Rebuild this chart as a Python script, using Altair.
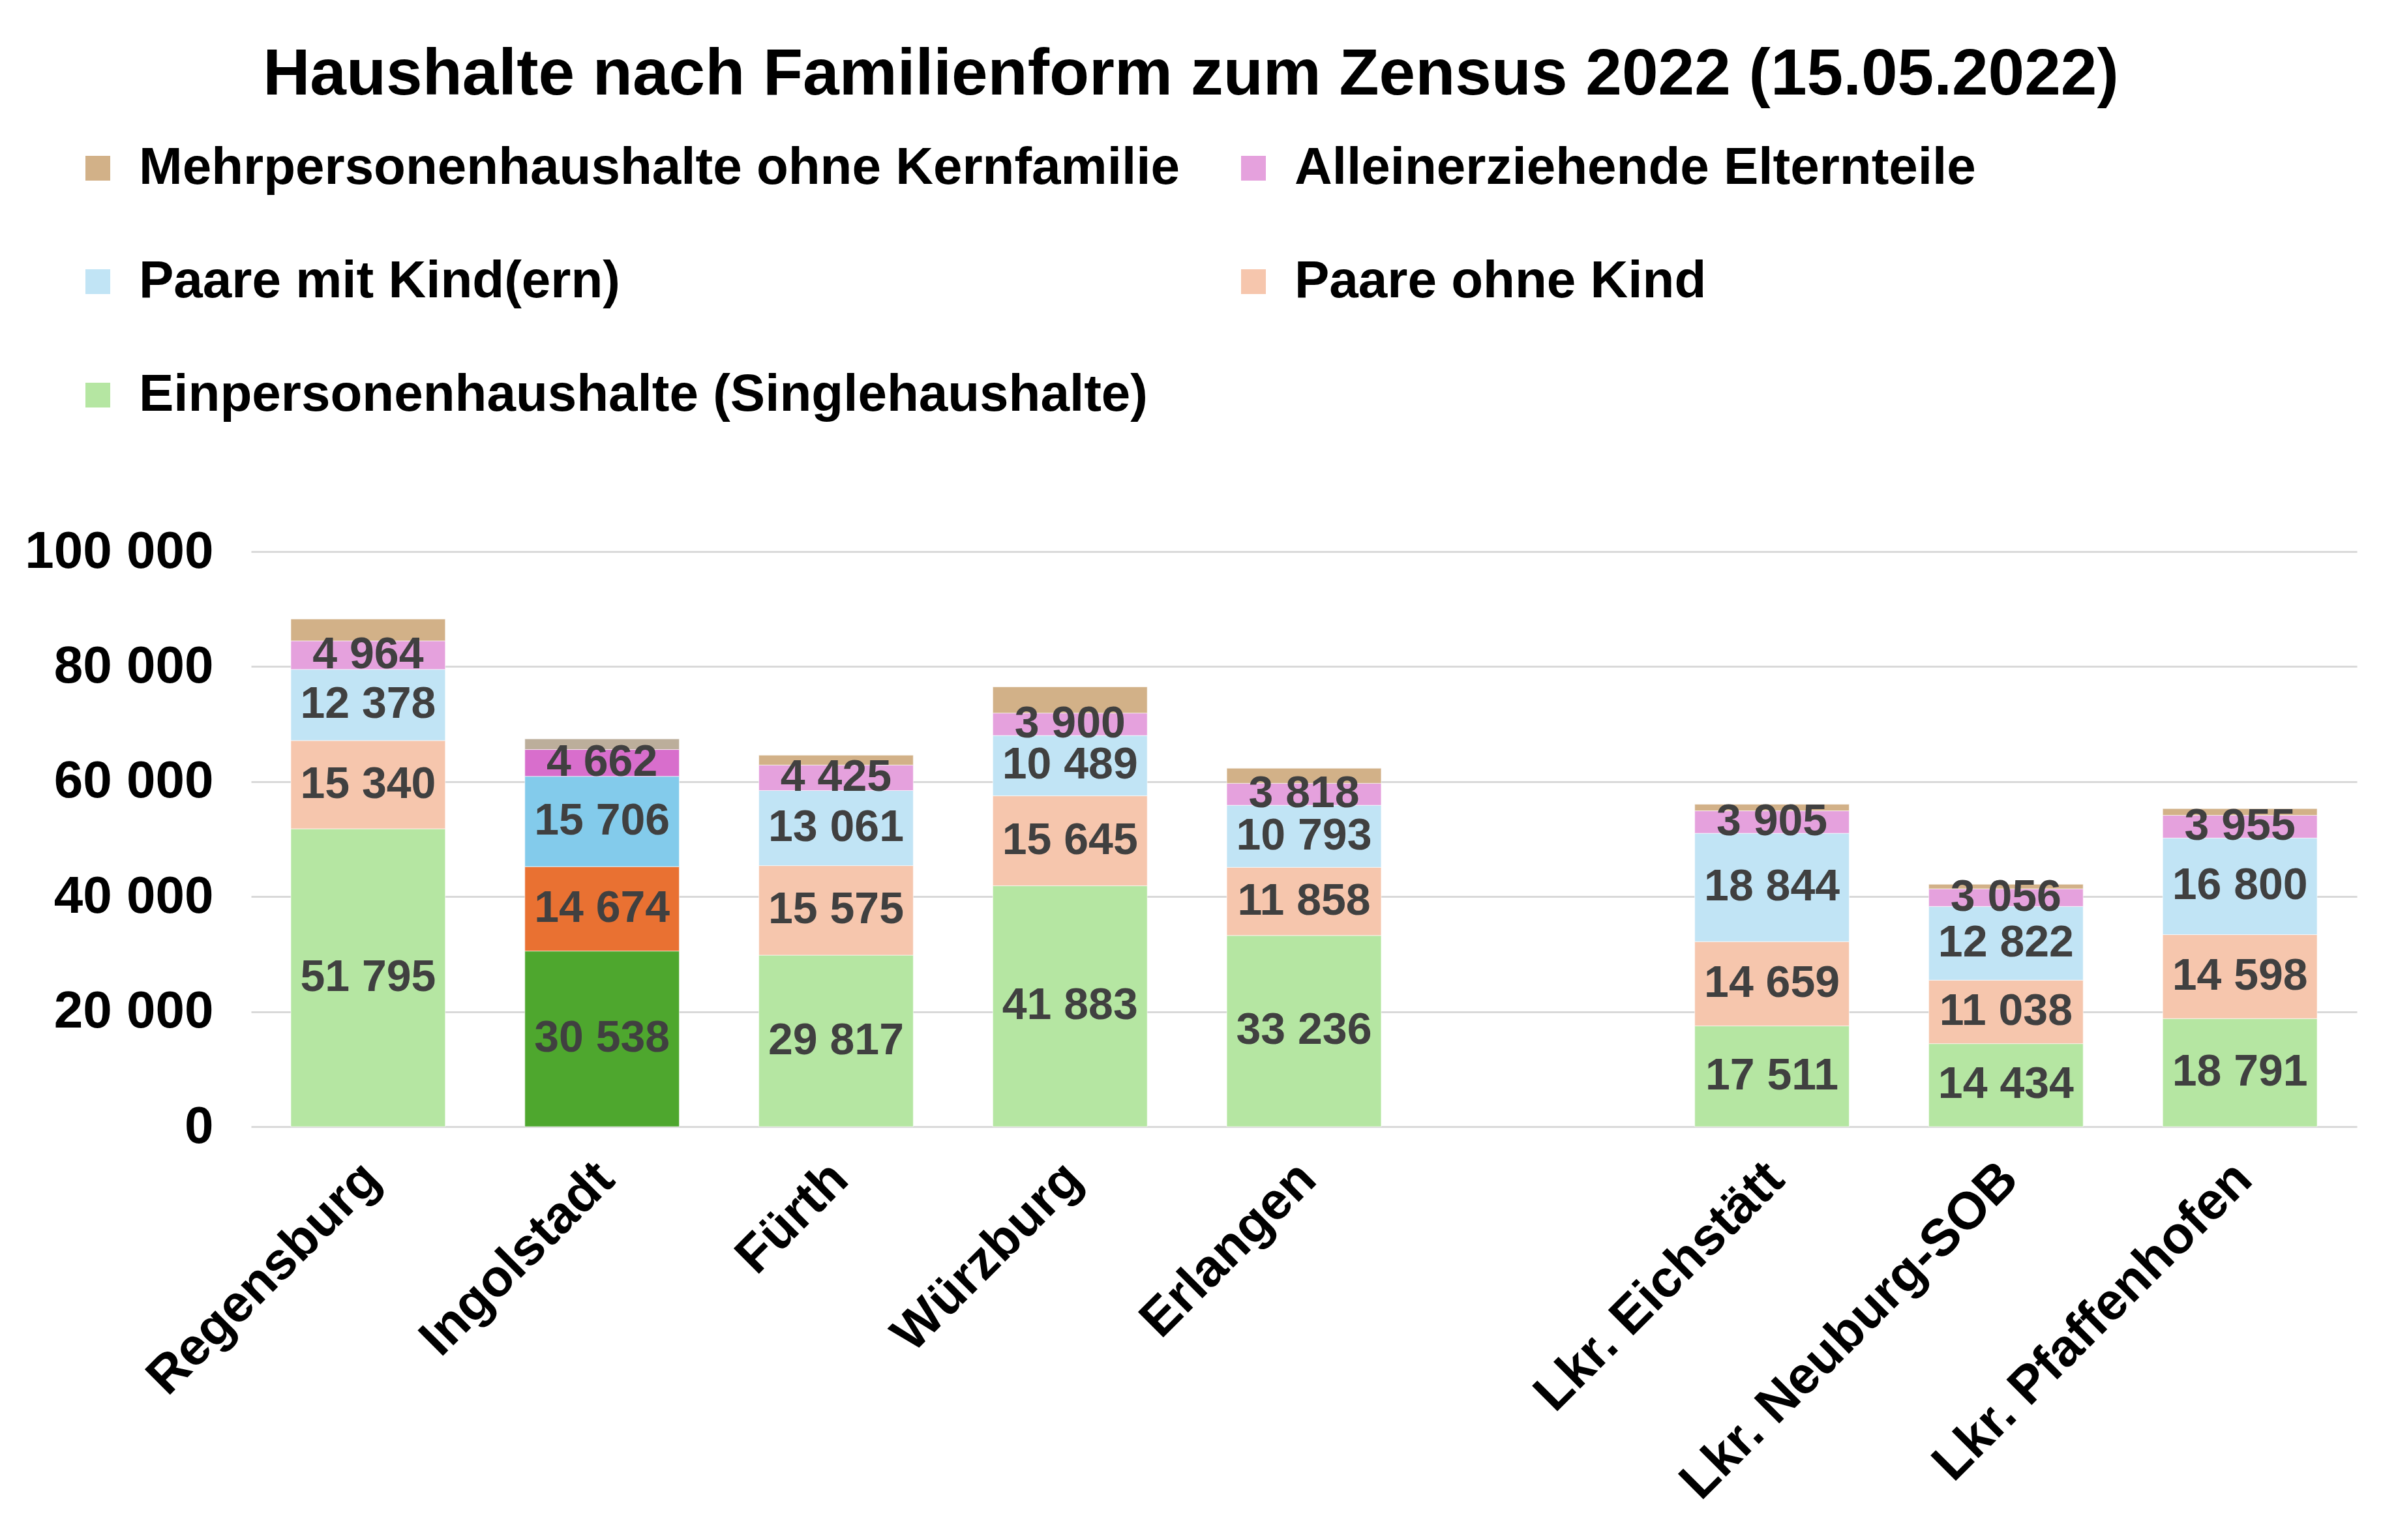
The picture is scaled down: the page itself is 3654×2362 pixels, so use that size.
import altair as alt
import pandas as pd

cities = ["Regensburg", "Ingolstadt", "Fürth", "Würzburg", "Erlangen",
          "Lkr. Eichstätt", "Lkr. Neuburg-SOB", "Lkr. Pfaffenhofen"]
x_domain = ["Regensburg", "Ingolstadt", "Fürth", "Würzburg", "Erlangen", " ",
            "Lkr. Eichstätt", "Lkr. Neuburg-SOB", "Lkr. Pfaffenhofen"]

series = ["Einpersonenhaushalte (Singlehaushalte)", "Paare ohne Kind",
          "Paare mit Kind(ern)", "Alleinerziehende Elternteile",
          "Mehrpersonenhaushalte ohne Kernfamilie"]

einpersonen = [51795, 30538, 29817, 41883, 33236, 17511, 14434, 18791]
paare_ohne_kind = [15340, 14674, 15575, 15645, 11858, 14659, 11038, 14598]
paare_mit_kind = [12378, 15706, 13061, 10489, 10793, 18844, 12822, 16800]
alleinerziehende = [4964, 4662, 4425, 3900, 3818, 3905, 3056, 3955]
mehrpersonen = [3800, 1850, 1720, 4550, 2620, 1140, 800, 1160]

normal_colors = ["#B5E6A2", "#F6C6AD", "#C1E4F5", "#E5A1DD", "#D2B188"]
highlight_colors = ["#4EA72E", "#E97132", "#83CBEB", "#D86ECC", "#BCAE9B"]
highlight_city = "Ingolstadt"

values = [einpersonen, paare_ohne_kind, paare_mit_kind, alleinerziehende, mehrpersonen]

rows = []
for s_idx, (s, vals) in enumerate(zip(series, values)):
    for c, v in zip(cities, vals):
        key = ("HL|" + s) if c == highlight_city else s
        rows.append({
            "city": c, "series": s, "rank": s_idx, "value": v, "key": key,
            "label": "" if s_idx == 4 else f"{v:,}".replace(",", " "),
        })
df = pd.DataFrame(rows)

color_domain = series + ["HL|" + s for s in series]
color_range = normal_colors + highlight_colors
# legend is filled column by column: col 1 = Mehr, Paare mit, Einpers; col 2 = Allein, Paare ohne
legend_order = [series[4], series[2], series[0], series[3], series[1]]

FONT = "Liberation Sans"

base = alt.Chart(df).transform_stack(
    stack="value", groupby=["city"], sort=[alt.SortField("rank", order="ascending")],
    as_=["y0", "y1"]
).transform_calculate(ymid="(datum.y0 + datum.y1) / 2")

x_scale = alt.Scale(domain=x_domain, paddingInner=0.34, paddingOuter=0.17)

x_enc = alt.X(
    "city:N", title=None, scale=x_scale,
    axis=alt.Axis(labelAngle=-45, labelFontSize=80, labelFont=FONT, labelFontWeight="bold",
                  labelColor="#000000", ticks=False, domain=False, labelPadding=40,
                  labelOffset=-22, labelLimit=2000),
)

bars = base.mark_bar(stroke="#FFFFFF", strokeWidth=1, strokeOpacity=0.6).encode(
    x=x_enc,
    y=alt.Y("y0:Q", title=None,
            scale=alt.Scale(domain=[0, 100000]),
            axis=alt.Axis(values=[0, 20000, 40000, 60000, 80000, 100000],
                          labelExpr="replace(format(datum.value, ','), ',', ' ')",
                          labelFontSize=80, labelFont=FONT, labelFontWeight="bold",
                          labelColor="#000000", ticks=False, domain=False,
                          labelPadding=58, labelLimit=2000,
                          gridColor="#D9D9D9", gridWidth=3)),
    y2="y1:Q",
    color=alt.Color("key:N", title=None,
                    scale=alt.Scale(domain=color_domain, range=color_range),
                    legend=alt.Legend(
                        values=legend_order, orient="none", legendX=-275, legendY=-628,
                        columns=2, symbolType="square", symbolSize=1444,
                        symbolStrokeWidth=0, labelFontSize=80, labelFont=FONT,
                        labelFontWeight="bold", labelColor="#000000", labelOffset=23,
                        columnPadding=73, rowPadding=94, labelLimit=3000)),
)

texts = base.transform_filter("datum.label != ''").mark_text(
    font=FONT, fontWeight="bold", fontSize=68, color="#404040", baseline="middle"
).encode(
    x=alt.X("city:N", scale=x_scale),
    y=alt.Y("ymid:Q"),
    text="label:N",
)

chart = alt.layer(bars, texts).properties(
    width=3229, height=882,
    padding={"left": 29, "top": 57, "right": 5, "bottom": 5},
    title=alt.TitleParams(
        "Haushalte nach Familienform zum Zensus 2022 (15.05.2022)",
        font=FONT, fontSize=100, fontWeight="bold", color="#000000",
        anchor="middle", frame="bounds", offset=52),
).configure(background="#FFFFFF", view=alt.ViewConfig(stroke=None, strokeWidth=0))

chart.save("out.html", embed_options={"renderer": "svg", "actions": False})
